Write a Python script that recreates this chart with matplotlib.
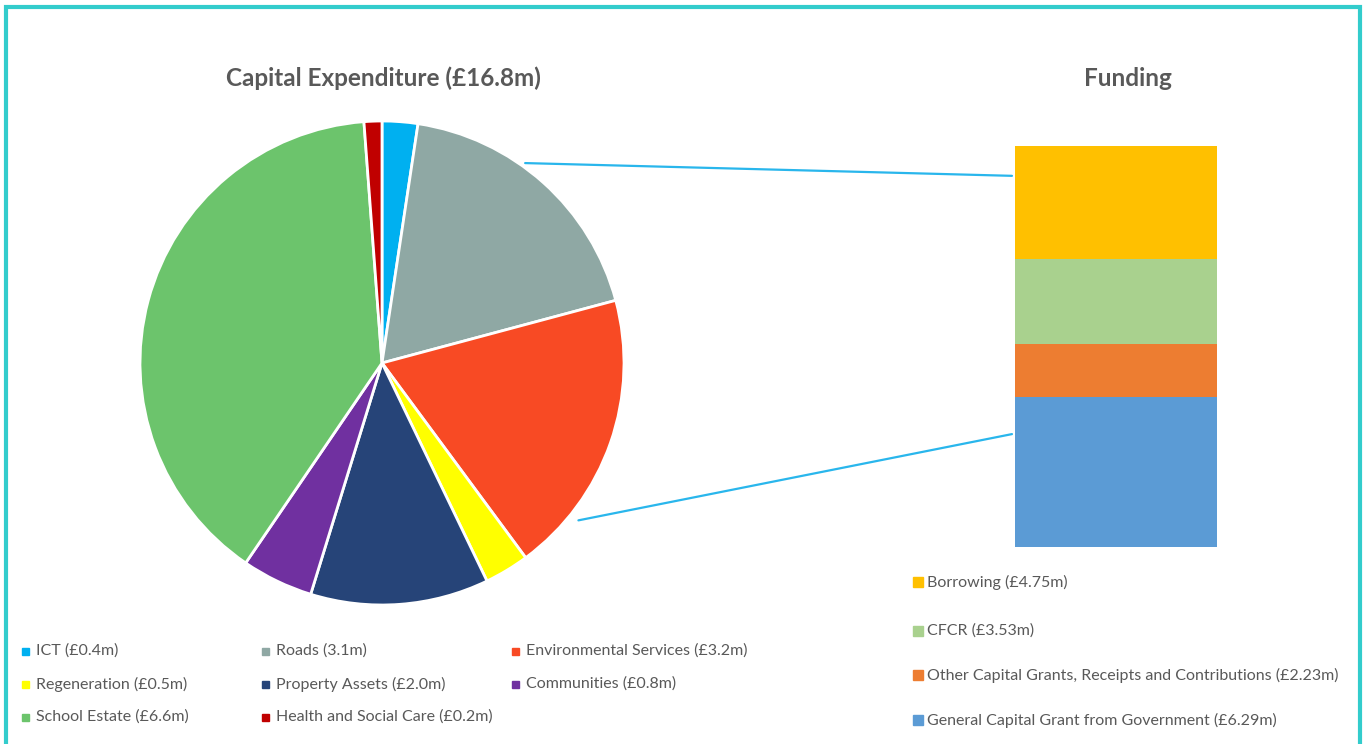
import numpy as np
import matplotlib
matplotlib.use('Agg')
import matplotlib.pyplot as plt
from matplotlib.patches import Rectangle, ConnectionPatch

# expenditure (pie), clockwise from 12 o'clock
exp_labels = ['ICT (£0.4m)', 'Roads (3.1m)', 'Environmental Services (£3.2m)',
              'Regeneration (£0.5m)', 'Property Assets (£2.0m)', 'Communities (£0.8m)',
              'School Estate (£6.6m)', 'Health and Social Care (£0.2m)']
exp_values = [0.4, 3.1, 3.2, 0.5, 2.0, 0.8, 6.6, 0.2]
exp_colors = ['#00B0F0', '#8FA8A4', '#F84A24', '#FFFF00', '#264478', '#7030A0', '#6CC46C', '#C00000']

# funding (stacked bar), bottom to top
fund_labels = ['General Capital Grant from Government (£6.29m)',
               'Other Capital Grants, Receipts and Contributions (£2.23m)',
               'CFCR (£3.53m)', 'Borrowing (£4.75m)']
fund_values = [6.29, 2.23, 3.53, 4.75]
fund_colors = ['#5B9BD5', '#ED7D31', '#A9D18E', '#FFC000']

W, H = 1370, 744
txt_col = '#595959'
font = ['Lato', 'DejaVu Sans']
plt.rcParams['font.family'] = font

fig = plt.figure(figsize=(W / 100, H / 100), dpi=100)

def fx(x):
    return x / W

def fy(y):
    return 1 - y / H

# pie, centre (382,363) radius 242 px
cx, cy, r = 382, 363, 242
ax_pie = fig.add_axes([fx(cx - r), fy(cy + r), 2 * r / W, 2 * r / H])
ax_pie.pie(exp_values, colors=exp_colors, startangle=90, counterclock=False,
           wedgeprops=dict(edgecolor='white', linewidth=2))
ax_pie.set_xlim(-1, 1)
ax_pie.set_ylim(-1, 1)
ax_pie.set_aspect('auto')
ax_pie.axis('off')

# stacked bar
ax_bar = fig.add_axes([fx(1015), fy(547), (1217 - 1015) / W, (547 - 146) / H])
bottom = 0
for v, c in zip(fund_values, fund_colors):
    ax_bar.bar(0.5, v, width=1, bottom=bottom, color=c, edgecolor='none')
    bottom += v
ax_bar.set_xlim(0, 1)
ax_bar.set_ylim(0, sum(fund_values))
ax_bar.axis('off')

# connector lines pie -> bar
conn = [(54.4, 1.016, 15.55), (-38.7, 1.04, 4.73)]
for ang, rr, yv in conn:
    a = np.deg2rad(ang)
    cp = ConnectionPatch(xyA=(rr * np.cos(a), rr * np.sin(a)), coordsA=ax_pie.transData,
                         xyB=(-0.015, yv), coordsB=ax_bar.transData,
                         color='#29B6EC', linewidth=1.6)
    fig.add_artist(cp)

# titles
fig.text(fx(383), fy(78), 'Capital Expenditure (£16.8m)', ha='center', va='center',
         fontsize=17.5, fontweight='bold', color=txt_col)
fig.text(fx(1128), fy(78), 'Funding', ha='center', va='center',
         fontsize=17.5, fontweight='bold', color=txt_col)

# pie legend (3 columns, row-wise)
col_x = [22, 262, 512]
row_y = [651, 684, 717]
sq = 7
for i, (lab, c) in enumerate(zip(exp_labels, exp_colors)):
    x = col_x[i % 3]
    y = row_y[i // 3]
    fig.add_artist(Rectangle((fx(x), fy(y + sq / 2)), sq / W, sq / H,
                             transform=fig.transFigure, color=c))
    fig.text(fx(x + 14), fy(y), lab, ha='left', va='center', fontsize=11.5, color=txt_col)

# bar legend
leg_y = [582, 631, 675, 720]
sq2 = 10
for lab, c, y in zip(fund_labels[::-1], fund_colors[::-1], leg_y):
    fig.add_artist(Rectangle((fx(913), fy(y + sq2 / 2)), sq2 / W, sq2 / H,
                             transform=fig.transFigure, color=c))
    fig.text(fx(927), fy(y), lab, ha='left', va='center', fontsize=11.5, color=txt_col)

# teal frame
fig.add_artist(Rectangle((fx(6), fy(760)), (1360 - 6) / W, (760 - 7) / H,
                         transform=fig.transFigure, fill=False,
                         edgecolor='#33CCCC', linewidth=3))

fig.savefig('out.png', dpi=100)
